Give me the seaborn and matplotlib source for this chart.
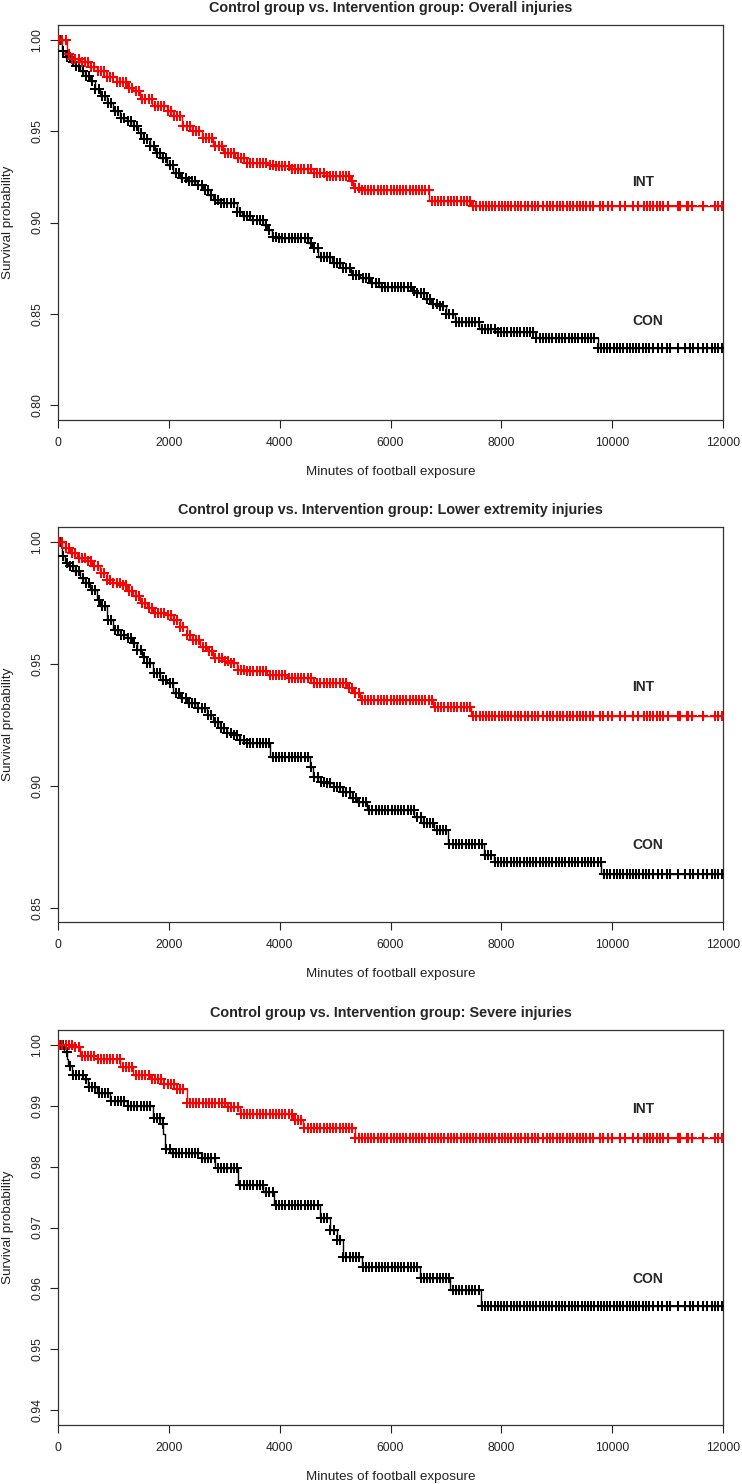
import numpy as np
import pandas as pd
import seaborn as sns
import matplotlib.pyplot as plt

# Panel titles and axis setup
TITLES = [
    "Control group vs. Intervention group: Overall injuries",
    "Control group vs. Intervention group: Lower extremity injuries",
    "Control group vs. Intervention group: Severe injuries",
]
Y_RANGES = [(0.80, 1.00), (0.85, 1.00), (0.94, 1.00)]
Y_TICKS = [
    [0.80, 0.85, 0.90, 0.95, 1.00],
    [0.85, 0.90, 0.95, 1.00],
    [0.94, 0.95, 0.96, 0.97, 0.98, 0.99, 1.00],
]
X_TICKS = [0, 2000, 4000, 6000, 8000, 10000, 12000]
X_MAX = 12000

# Kaplan-Meier step knots (time in minutes, survival after that time)
overall_int_t = [0, 151, 241, 392, 573, 693, 874, 1054, 1235, 1355, 1476, 1686, 1958, 2078,
                 2228, 2409, 2590, 2800, 2981, 3192, 3402, 3764, 3884, 4185, 4607, 4847,
                 5269, 5329, 5450, 6700, 7450]
overall_int_s = [1.0, 0.9921, 0.9894, 0.9876, 0.9848, 0.983, 0.9793, 0.9766, 0.9738, 0.972,
                 0.9674, 0.9638, 0.961, 0.9582, 0.9528, 0.95, 0.9463, 0.9418, 0.9381, 0.9354,
                 0.9326, 0.9317, 0.9308, 0.929, 0.9271, 0.9253, 0.9225, 0.9189, 0.918,
                 0.9115, 0.9088]
overall_con_t = [0, 61, 121, 211, 302, 392, 482, 573, 663, 753, 874, 994, 1115, 1235, 1355,
                 1446, 1536, 1656, 1747, 1837, 1958, 2078, 2198, 2319, 2499, 2620, 2710,
                 2800, 2921, 3222, 3312, 3463, 3704, 3764, 3854, 3944, 4516, 4577, 4687,
                 4944, 5115, 5286, 5457, 5628, 5799, 6397, 6483, 6611, 6740, 6868, 6997,
                 7168, 7600, 7890, 8620, 9740]
overall_con_s = [1.0, 0.994, 0.9903, 0.9876, 0.9857, 0.983, 0.9802, 0.9775, 0.9729, 0.9692,
                 0.9656, 0.961, 0.9573, 0.9555, 0.9527, 0.9491, 0.9454, 0.9418, 0.9381,
                 0.9354, 0.9317, 0.9271, 0.9244, 0.9225, 0.9207, 0.918, 0.9152, 0.9125,
                 0.9106, 0.906, 0.9033, 0.9015, 0.8987, 0.896, 0.8923, 0.8914, 0.8886,
                 0.8859, 0.8813, 0.8777, 0.875, 0.8713, 0.8694, 0.8667, 0.8645, 0.8627,
                 0.8612, 0.858, 0.8557, 0.8545, 0.8502, 0.8456, 0.842, 0.8401, 0.837, 0.8315]

lower_int_t = [0, 121, 211, 332, 512, 603, 753, 874, 994, 1115, 1235, 1355, 1476, 1596,
               1717, 1958, 2078, 2198, 2319, 2409, 2560, 2681, 2800, 2981, 3101, 3222, 3402,
               3764, 4125, 4607, 5209, 5329, 5450, 6762, 7454]
lower_int_s = [1.0, 0.9975, 0.9955, 0.9934, 0.9921, 0.99, 0.9873, 0.9845, 0.9831, 0.9825,
               0.9797, 0.9777, 0.9749, 0.9729, 0.9708, 0.9701, 0.9681, 0.9653, 0.9619,
               0.9598, 0.9571, 0.9551, 0.9523, 0.951, 0.9503, 0.9476, 0.9469, 0.9455,
               0.9441, 0.9421, 0.94, 0.938, 0.9352, 0.9322, 0.9286]
lower_con_t = [0, 61, 121, 181, 272, 392, 482, 573, 693, 753, 874, 994, 1115, 1235, 1325,
               1416, 1506, 1596, 1717, 1837, 1958, 2078, 2198, 2319, 2499, 2680, 2800, 2921,
               3041, 3161, 3282, 3402, 3824, 4546, 4607, 4727, 4847, 4967, 5148, 5269,
               5389, 5570, 6430, 6551, 6792, 7033, 7694, 7875, 9802]
lower_con_s = [1.0, 0.9941, 0.9914, 0.99, 0.9879, 0.9852, 0.9831, 0.9804, 0.9763, 0.9736,
               0.9681, 0.964, 0.9619, 0.9606, 0.9585, 0.9558, 0.953, 0.9503, 0.9462, 0.9434,
               0.9421, 0.938, 0.9359, 0.9338, 0.9318, 0.929, 0.9263, 0.9235, 0.9215, 0.9208,
               0.9188, 0.9174, 0.9119, 0.9078, 0.9037, 0.9017, 0.901, 0.8996, 0.8976,
               0.8948, 0.8935, 0.8902, 0.8873, 0.8846, 0.8818, 0.8763, 0.8715, 0.8688,
               0.864]

severe_int_t = [0, 271, 392, 694, 1115, 1355, 1657, 1897, 2139, 2320, 3041, 3282, 4245,
                4426, 5359]
severe_int_s = [1.0, 0.9996, 0.9982, 0.9976, 0.9963, 0.995, 0.9943, 0.9935, 0.9927, 0.9905,
                0.9897, 0.9887, 0.9876, 0.9864, 0.9847]
severe_con_t = [0, 100, 152, 181, 241, 452, 542, 694, 934, 1235, 1716, 1837, 1897, 1927,
                2018, 2590, 2830, 3250, 3700, 3900, 4726, 4907, 5028, 5148, 5480, 6540,
                7080, 7630]
severe_con_s = [1.0, 0.9988, 0.9976, 0.9965, 0.995, 0.9943, 0.993, 0.9921, 0.9908, 0.9899,
                0.988, 0.9869, 0.9853, 0.9828, 0.9822, 0.9814, 0.9798, 0.977, 0.9759, 0.9737,
                0.9715, 0.9696, 0.9679, 0.9652, 0.9635, 0.9617, 0.9597, 0.9571]

# censoring times (same follow-up in every panel)
int_censor = [20, 75, 135, 190, 250, 305, 365, 420, 480, 535, 595, 650, 710, 765, 825,
              880, 940, 995, 1055, 1110, 1170, 1225, 1285, 1340, 1400, 1455, 1515, 1570,
              1630, 1685, 1745, 1800, 1860, 1915, 1975, 2030, 2090, 2145, 2205, 2260,
              2320, 2375, 2435, 2490, 2550, 2605, 2665, 2720, 2780, 2835, 2895, 2950,
              3010, 3065, 3125, 3180, 3240, 3295, 3355, 3410, 3470, 3525, 3585, 3640,
              3700, 3755, 3815, 3870, 3930, 3985, 4045, 4100, 4160, 4215, 4275, 4330,
              4390, 4445, 4505, 4560, 4620, 4675, 4735, 4790, 4850, 4905, 4965, 5020,
              5080, 5135, 5195, 5250, 5310, 5365, 5425, 5480, 5540, 5595, 5655, 5710,
              5770, 5825, 5885, 5940, 6000, 6055, 6115, 6170, 6230, 6285, 6345, 6400,
              6460, 6515, 6575, 6630, 6690, 6745, 6805, 6860, 6920, 6975, 7035, 7090,
              7150, 7205, 7265, 7320, 7380, 7435, 7495, 7550, 7610, 7665, 7725, 7780,
              7840, 7895, 7955, 8010, 8070, 8125, 8185, 8240, 8300, 8355,
              8430, 8490, 8550, 8610, 8670, 8760, 8820, 8880, 8940, 9000, 9060, 9120,
              9180, 9240, 9300, 9360, 9420, 9480, 9540, 9600, 9660, 9780, 9840, 9935,
              9995, 10145, 10235, 10385, 10475, 10570, 10630, 10690, 10750, 10810,
              10870, 10930, 11020, 11200, 11230, 11350, 11380, 11440, 11650, 11860,
              11920, 11990]
con_censor = [30, 90, 150, 205, 265, 320, 380, 440, 495, 555, 615, 670, 730, 790, 845,
              905, 960, 1020, 1080, 1135, 1195, 1255, 1310, 1370, 1430, 1485, 1545, 1600,
              1660, 1720, 1775, 1835, 1895, 1950, 2010, 2065, 2125, 2185, 2240, 2300,
              2360, 2415, 2475, 2530, 2590, 2650, 2705, 2765, 2825, 2880, 2940, 2995,
              3055, 3115, 3170, 3230, 3290, 3345, 3405, 3460, 3520, 3580, 3635, 3695,
              3755, 3810, 3870, 3925, 3985, 4045, 4100, 4160, 4220, 4275, 4335, 4390,
              4450, 4510, 4565, 4625, 4685, 4740, 4800, 4855, 4915, 4975, 5030, 5090,
              5150, 5205, 5265, 5320, 5380, 5440, 5495, 5555, 5615, 5670, 5730, 5785,
              5845, 5905, 5960, 6020, 6080, 6135, 6195, 6250, 6310, 6370, 6425, 6485,
              6545, 6600, 6660, 6715, 6775, 6835, 6890, 6950, 7010, 7065, 7125, 7180,
              7240, 7300, 7355, 7415, 7475, 7530, 7590, 7645, 7705, 7765, 7820, 7880,
              7940, 7995, 8055, 8110, 8170, 8230, 8285, 8345, 8405, 8460, 8520, 8575,
              8635, 8695, 8750, 8810, 8870, 8925, 8985, 9040, 9100, 9160, 9215, 9275,
              9335, 9390, 9450, 9505, 9565, 9625, 9680, 9740, 9800, 9855, 9915, 9970,
              10030, 10090, 10145, 10205, 10265, 10320, 10380, 10435, 10495, 10555,
              10610, 10670,
              10750, 10840, 10900, 10990, 11050, 11200, 11320, 11410, 11470, 11560,
              11650, 11710, 11800, 11860, 11920, 11985]

# group label positions (x, y) per panel
LABEL_X = [10560, 10640]
INT_LABEL_Y = [0.9224, 0.9406, 0.9894]
CON_LABEL_Y = [0.846, 0.8756, 0.9615]

PANELS = [
    (overall_int_t, overall_int_s, overall_con_t, overall_con_s),
    (lower_int_t, lower_int_s, lower_con_t, lower_con_s),
    (severe_int_t, severe_int_s, severe_con_t, severe_con_s),
]


def step_frame(times, surv):
    t = list(times) + [X_MAX]
    s = list(surv) + [surv[-1]]
    return pd.DataFrame({"time": t, "surv": s})


def censor_frame(times, surv, censor):
    idx = np.searchsorted(times, censor, side="right") - 1
    return pd.DataFrame({"time": censor, "surv": np.asarray(surv)[idx]})


def draw_curve(ax, times, surv, censor, color):
    sns.lineplot(data=step_frame(times, surv), x="time", y="surv", drawstyle="steps-post",
                 estimator=None, sort=False, color=color, lw=1.0, ax=ax)
    sns.scatterplot(data=censor_frame(times, surv, censor), x="time", y="surv", marker="+",
                    s=44, linewidth=1.45, color=color, ax=ax, zorder=3)


sns.set_style("white")
plt.rcParams["font.family"] = ["Liberation Sans", "DejaVu Sans"]

W, H = 742, 1484
fig = plt.figure(figsize=(W / 100, H / 100), dpi=100)

# pixel layout of the three boxes
left_px, right_px = 58.3, 722.7
tops_px = [25, 527.3, 1030]
box_h = 395

for i, (it, is_, ct, cs) in enumerate(PANELS):
    top = tops_px[i]
    ax = fig.add_axes([left_px / W, 1 - (top + box_h) / H, (right_px - left_px) / W, box_h / H])

    draw_curve(ax, ct, cs, con_censor, "black")
    draw_curve(ax, it, is_, int_censor, "#ff0000")

    lo, hi = Y_RANGES[i]
    pad = 0.04 * (hi - lo)
    ax.set_xlim(0, X_MAX)
    ax.set_ylim(lo - pad, hi + pad)
    ax.set_xticks(X_TICKS)
    ax.set_xticklabels([str(v) for v in X_TICKS])
    ax.set_yticks(Y_TICKS[i])
    ax.set_yticklabels([f"{v:.2f}" for v in Y_TICKS[i]], rotation=90, va="center")
    ax.tick_params(axis="both", direction="out", length=6, width=0.8, colors="#222222",
                   labelsize=8.7, left=True, bottom=True)
    ax.tick_params(axis="x", pad=6)
    ax.tick_params(axis="y", pad=5)
    for sp in ax.spines.values():
        sp.set_color("#333333")
        sp.set_linewidth(0.9)
    ax.set_xlabel("")
    ax.set_ylabel("")

    ax.text(0.5, -52 / box_h, "Minutes of football exposure", transform=ax.transAxes,
            ha="center", va="center", fontsize=9.7, color="#222222")
    ax.text(-50 / (right_px - left_px), 0.5, "Survival probability", transform=ax.transAxes,
            ha="center", va="center", rotation=90, fontsize=9.7, color="#222222")
    ax.text(0.5, 1 + 17 / box_h, TITLES[i], transform=ax.transAxes, ha="center",
            va="center", fontsize=10.4, fontweight="bold")

    ax.text(LABEL_X[0], INT_LABEL_Y[i], "INT", ha="center", va="center",
            fontsize=10, fontweight="bold")
    ax.text(LABEL_X[1], CON_LABEL_Y[i], "CON", ha="center", va="center",
            fontsize=10, fontweight="bold")

fig.savefig("out.png", dpi=100)
